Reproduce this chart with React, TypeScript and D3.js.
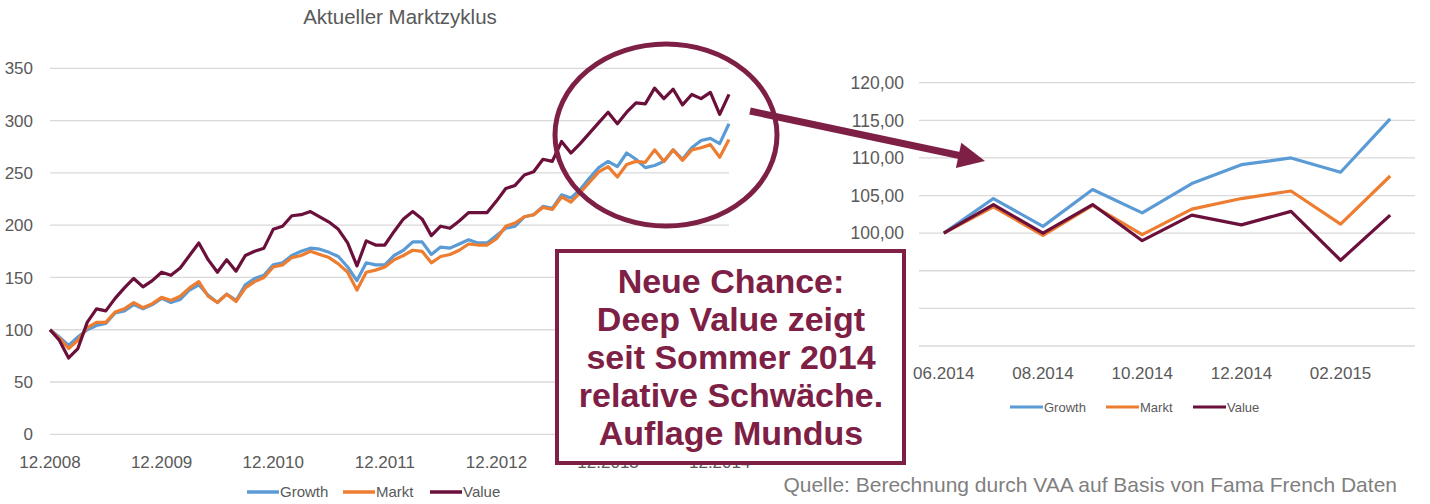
import React, { useEffect, useRef } from 'react';
import * as d3 from 'd3';

// left chart: monthly index values 12.2008 .. 01.2015
const growthLong = [100, 93, 85, 93, 100, 104, 106, 116, 118, 124, 120, 124, 130, 126, 129, 138, 143, 133, 126, 134,
  128, 143, 149, 152, 162, 164, 171, 175, 178, 177, 174, 170, 160, 147, 164, 162, 162, 171, 176, 184,
  184, 172, 179, 178, 182, 186, 183, 183, 190, 197, 199, 208, 210, 218, 216, 229, 226, 234, 245, 255,
  261, 256, 269, 263, 255, 257, 261, 272, 263, 274, 281, 283, 278, 297];
const marktLong = [100, 92, 82, 90, 102, 107, 107, 117, 120, 126, 121, 125, 131, 128, 132, 140, 146, 132, 126, 134,
  127, 140, 146, 150, 160, 162, 169, 171, 175, 172, 169, 163, 155, 138, 155, 157, 160, 167, 171, 176,
  175, 164, 170, 172, 176, 182, 181, 181, 187, 199, 202, 208, 210, 217, 215, 227, 222, 231, 241, 251,
  256, 246, 258, 261, 260, 272, 261, 272, 262, 272, 274, 277, 265, 282];
const valueLong = [100, 90, 73, 82, 107, 120, 118, 130, 140, 149, 141, 147, 155, 152, 159, 171, 183, 167, 155, 167,
  156, 171, 175, 178, 196, 199, 209, 210, 213, 208, 203, 196, 183, 161, 185, 181, 181, 194, 206, 213,
  206, 190, 199, 197, 204, 212, 212, 212, 223, 235, 238, 248, 251, 263, 261, 280, 269, 278, 288, 298,
  308, 297, 308, 317, 316, 331, 321, 330, 315, 325, 321, 327, 306, 325];
const longTicks = [0, 50, 100, 150, 200, 250, 300, 350];

// right chart: 06.2014 .. 03.2015
const shortMonths = ['06.2014', '07.2014', '08.2014', '09.2014', '10.2014', '11.2014', '12.2014', '01.2015', '02.2015', '03.2015'];
const growthShort = [100, 104.6, 100.9, 105.8, 102.7, 106.6, 109.1, 110.0, 108.1, 115.2];
const marktShort = [100, 103.5, 99.7, 103.7, 99.8, 103.2, 104.6, 105.6, 101.2, 107.6];
const valueShort = [100, 103.8, 100.0, 103.8, 99.0, 102.4, 101.1, 102.9, 96.4, 102.4];
const shortTicks = [85, 90, 95, 100, 105, 110, 115, 120];
// labels below 100 sit behind the text box in the original
const shortTickLabels = [100, 105, 110, 115, 120];

const seriesNames = ['Growth', 'Markt', 'Value'];
const boxLines = ['Neue Chance:', 'Deep Value zeigt', 'seit Sommer 2014', 'relative Schwäche.', 'Auflage Mundus'];

const COLORS = ['#5B9BD5', '#ED7D31', '#6B0F3B'];
const WINE = '#7E2045';
const GRID = '#D9D9D9';
const TEXT = '#595959';
const FONT = '"Liberation Sans", Arial, sans-serif';

const monthLabels = () => {
  const out: string[] = [];
  let m = 12, y = 2008;
  for (let i = 0; i < growthLong.length; i++) {
    out.push(`${String(m).padStart(2, '0')}.${y}`);
    m++;
    if (m > 12) { m = 1; y++; }
  }
  return out;
};

const App = () => {
  const ref = useRef<SVGSVGElement>(null);

  const draw = () => {
    const svg = d3.select(ref.current);
    svg.selectAll('*').remove();
    svg.style('font-family', FONT);

    // ---------- left chart ----------
    const cats = monthLabels();
    const x = d3.scalePoint<string>().domain(cats).range([50, 729]);
    const y = d3.scaleLinear().domain([0, 350]).range([434.3, 68.3]);

    svg.append('text')
      .attr('x', 400).attr('y', 24)
      .attr('text-anchor', 'middle')
      .attr('fill', TEXT)
      .style('font-size', '20.5px')
      .text('Aktueller Marktzyklus');

    const gl = svg.append('g');
    gl.selectAll('line.grid')
      .data(longTicks)
      .enter().append('line')
      .attr('x1', 50).attr('x2', 729)
      .attr('y1', d => y(d)).attr('y2', d => y(d))
      .attr('stroke', GRID).attr('stroke-width', 1.3);

    gl.selectAll('text.yt')
      .data(longTicks)
      .enter().append('text')
      .attr('x', 33).attr('y', d => y(d)).attr('dy', '0.36em')
      .attr('text-anchor', 'end')
      .attr('fill', TEXT)
      .style('font-size', '17px')
      .text(d => d);

    gl.selectAll('text.xt')
      .data(cats.filter((c, i) => i % 12 === 0))
      .enter().append('text')
      .attr('x', d => x(d) as number).attr('y', 468)
      .attr('text-anchor', 'middle')
      .attr('fill', TEXT)
      .style('font-size', '17px')
      .text(d => d);

    const lineL = d3.line<number>()
      .x((d, i) => x(cats[i]) as number)
      .y(d => y(d))
      .curve(d3.curveLinear);

    [growthLong, marktLong, valueLong].forEach((s, k) => {
      gl.append('path')
        .attr('d', lineL(s))
        .attr('fill', 'none')
        .attr('stroke', COLORS[k])
        .attr('stroke-width', 3.2)
        .attr('stroke-linejoin', 'round');
    });

    // left legend
    const legL = [247, 343, 430];
    seriesNames.forEach((n, k) => {
      svg.append('line')
        .attr('x1', legL[k]).attr('x2', legL[k] + 32)
        .attr('y1', 492).attr('y2', 492)
        .attr('stroke', COLORS[k]).attr('stroke-width', 3.5);
      svg.append('text')
        .attr('x', legL[k] + 33).attr('y', 497)
        .attr('fill', TEXT)
        .style('font-size', '15px')
        .text(n);
    });

    // ---------- right chart ----------
    const xr = d3.scaleBand().domain(shortMonths).range([919, 1415]);
    const yr = d3.scaleLinear().domain([85, 120]).range([346, 82.7]);
    const cx = (m: string) => (xr(m) as number) + xr.bandwidth() / 2;

    const gr = svg.append('g');
    gr.selectAll('line')
      .data(shortTicks)
      .enter().append('line')
      .attr('x1', 919).attr('x2', 1415)
      .attr('y1', d => yr(d)).attr('y2', d => yr(d))
      .attr('stroke', GRID).attr('stroke-width', 1.3);

    gr.selectAll('text.yt')
      .data(shortTickLabels)
      .enter().append('text')
      .attr('x', 904).attr('y', d => yr(d)).attr('dy', '0.36em')
      .attr('text-anchor', 'end')
      .attr('fill', TEXT)
      .style('font-size', '17.5px')
      .text(d => d3.format('.2f')(d).replace('.', ','));

    gr.selectAll('text.xt')
      .data(shortMonths.filter((m, i) => i % 2 === 0))
      .enter().append('text')
      .attr('x', d => cx(d)).attr('y', 379)
      .attr('text-anchor', 'middle')
      .attr('fill', TEXT)
      .style('font-size', '17px')
      .text(d => d);

    const lineR = d3.line<number>()
      .x((d, i) => cx(shortMonths[i]))
      .y(d => yr(d));

    [growthShort, marktShort, valueShort].forEach((s, k) => {
      gr.append('path')
        .attr('d', lineR(s))
        .attr('fill', 'none')
        .attr('stroke', COLORS[k])
        .attr('stroke-width', 3.2)
        .attr('stroke-linejoin', 'round');
    });

    const legR = [1010, 1106, 1193];
    seriesNames.forEach((n, k) => {
      svg.append('line')
        .attr('x1', legR[k]).attr('x2', legR[k] + 33)
        .attr('y1', 407).attr('y2', 407)
        .attr('stroke', COLORS[k]).attr('stroke-width', 3);
      svg.append('text')
        .attr('x', legR[k] + 34).attr('y', 412)
        .attr('fill', TEXT)
        .style('font-size', '13px')
        .text(n);
    });

    // ---------- annotations ----------
    svg.append('ellipse')
      .attr('cx', 666).attr('cy', 135)
      .attr('rx', 111).attr('ry', 91)
      .attr('fill', 'none')
      .attr('stroke', WINE).attr('stroke-width', 5);

    // arrow
    const a0 = [750, 111], a1 = [985, 161];
    const ang = Math.atan2(a1[1] - a0[1], a1[0] - a0[0]);
    const headLen = 27, headW = 13;
    const bx = a1[0] - headLen * Math.cos(ang), by = a1[1] - headLen * Math.sin(ang);
    svg.append('line')
      .attr('x1', a0[0]).attr('y1', a0[1])
      .attr('x2', bx + 2 * Math.cos(ang)).attr('y2', by + 2 * Math.sin(ang))
      .attr('stroke', WINE).attr('stroke-width', 7);
    svg.append('path')
      .attr('d', `M${a1[0]},${a1[1]}L${bx + headW * Math.sin(ang)},${by - headW * Math.cos(ang)}L${bx - headW * Math.sin(ang)},${by + headW * Math.cos(ang)}Z`)
      .attr('fill', WINE);

    // text box
    svg.append('rect')
      .attr('x', 557).attr('y', 251)
      .attr('width', 347).attr('height', 212)
      .attr('fill', '#fff')
      .attr('stroke', WINE).attr('stroke-width', 4);

    svg.append('text')
      .attr('text-anchor', 'middle')
      .attr('fill', WINE)
      .style('font-size', '34px')
      .style('font-weight', 'bold')
      .selectAll('tspan')
      .data(boxLines)
      .enter().append('tspan')
      .attr('x', 731)
      .attr('y', (d, i) => 293 + i * 38)
      .text(d => d);

    svg.append('text')
      .attr('x', 1397).attr('y', 492)
      .attr('text-anchor', 'end')
      .attr('fill', '#7F7F7F')
      .style('font-size', '21px')
      .text('Quelle: Berechnung durch VAA auf Basis von Fama French Daten');
  };

  useEffect(() => draw());

  return (
    <svg ref={ref} width="1430" height="504"
      style={{ position: 'absolute', left: 0, top: 0, background: '#fff' }} />
  );
};

export default App;
